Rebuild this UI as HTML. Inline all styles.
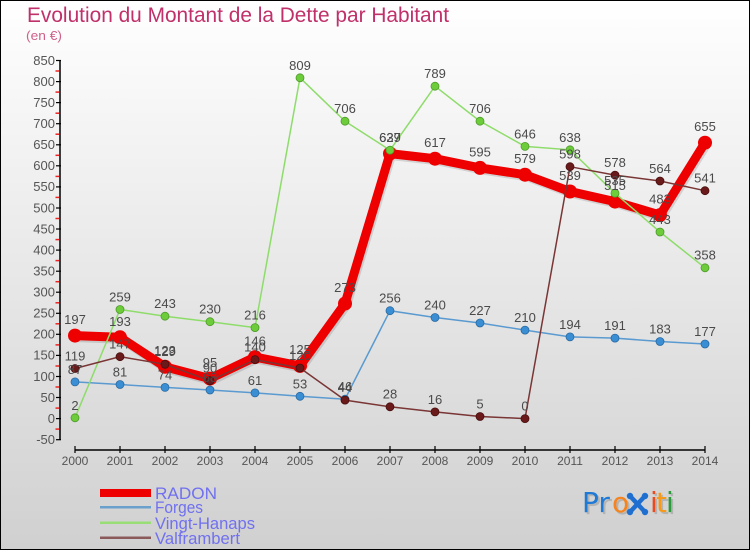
<!DOCTYPE html>
<html><head><meta charset="utf-8"><style>
html,body{margin:0;padding:0;}
body{width:750px;height:550px;overflow:hidden;}
svg{display:block;}
</style></head><body>
<svg width="750" height="550" viewBox="0 0 750 550" xmlns="http://www.w3.org/2000/svg" font-family="Liberation Sans, DejaVu Sans, sans-serif">
<defs>
<linearGradient id="bg" x1="0" y1="0" x2="0" y2="1">
<stop offset="0" stop-color="#ffffff"/>
<stop offset="1" stop-color="#d0d0d0"/>
</linearGradient>
</defs>
<rect x="0" y="0" width="750" height="550" fill="url(#bg)"/>
<rect x="0.5" y="0.5" width="749" height="549" fill="none" stroke="#000" stroke-width="1"/>

<text x="27" y="22" font-size="21" fill="#c0306a" textLength="422" lengthAdjust="spacingAndGlyphs">Evolution du Montant de la Dette par Habitant</text>
<text x="26" y="40" font-size="13" fill="#d0608a" textLength="36" lengthAdjust="spacingAndGlyphs">(en €)</text>

<!-- Y axis -->
<g stroke="#ee2222" stroke-width="1.5">
<line x1="55.5" y1="71" x2="59" y2="71"/><line x1="55.5" y1="92.1" x2="59" y2="92.1"/><line x1="55.5" y1="113.2" x2="59" y2="113.2"/><line x1="55.5" y1="134.2" x2="59" y2="134.2"/><line x1="55.5" y1="155.3" x2="59" y2="155.3"/><line x1="55.5" y1="176.4" x2="59" y2="176.4"/><line x1="55.5" y1="197.4" x2="59" y2="197.4"/><line x1="55.5" y1="218.5" x2="59" y2="218.5"/><line x1="55.5" y1="239.6" x2="59" y2="239.6"/><line x1="55.5" y1="260.6" x2="59" y2="260.6"/><line x1="55.5" y1="281.7" x2="59" y2="281.7"/><line x1="55.5" y1="302.8" x2="59" y2="302.8"/><line x1="55.5" y1="323.8" x2="59" y2="323.8"/><line x1="55.5" y1="344.9" x2="59" y2="344.9"/><line x1="55.5" y1="366" x2="59" y2="366"/><line x1="55.5" y1="387" x2="59" y2="387"/><line x1="55.5" y1="408.1" x2="59" y2="408.1"/><line x1="55.5" y1="429.1" x2="59" y2="429.1"/>
</g>
<g stroke="#000" stroke-width="1.5">
<line x1="60" y1="60.5" x2="60" y2="440"/>
</g>
<g stroke="#000" stroke-width="1.2">
<line x1="56" y1="60.5" x2="61" y2="60.5"/><line x1="56" y1="81.6" x2="61" y2="81.6"/><line x1="56" y1="102.6" x2="61" y2="102.6"/><line x1="56" y1="123.7" x2="61" y2="123.7"/><line x1="56" y1="144.8" x2="61" y2="144.8"/><line x1="56" y1="165.8" x2="61" y2="165.8"/><line x1="56" y1="186.9" x2="61" y2="186.9"/><line x1="56" y1="208" x2="61" y2="208"/><line x1="56" y1="229" x2="61" y2="229"/><line x1="56" y1="250.1" x2="61" y2="250.1"/><line x1="56" y1="271.2" x2="61" y2="271.2"/><line x1="56" y1="292.2" x2="61" y2="292.2"/><line x1="56" y1="313.3" x2="61" y2="313.3"/><line x1="56" y1="334.3" x2="61" y2="334.3"/><line x1="56" y1="355.4" x2="61" y2="355.4"/><line x1="56" y1="376.5" x2="61" y2="376.5"/><line x1="56" y1="397.5" x2="61" y2="397.5"/><line x1="56" y1="418.6" x2="61" y2="418.6"/><line x1="56" y1="439.7" x2="61" y2="439.7"/>
</g>
<g font-size="13" fill="#555" text-anchor="end">
<text x="55" y="65">850</text><text x="55" y="86">800</text><text x="55" y="107">750</text><text x="55" y="128">700</text><text x="55" y="149">650</text><text x="55" y="170">600</text><text x="55" y="191">550</text><text x="55" y="212.5">500</text><text x="55" y="233.5">450</text><text x="55" y="254.5">400</text><text x="55" y="275.5">350</text><text x="55" y="296.5">300</text><text x="55" y="317.5">250</text><text x="55" y="338.5">200</text><text x="55" y="359.5">150</text><text x="55" y="381">100</text><text x="55" y="402">50</text><text x="55" y="423">0</text><text x="55" y="444">-50</text>
</g>

<!-- X axis -->
<line x1="75" y1="450" x2="705" y2="450" stroke="#000" stroke-width="1.5"/>
<g stroke="#000" stroke-width="1.2">
<line x1="75" y1="446" x2="75" y2="453"/><line x1="120" y1="446" x2="120" y2="453"/><line x1="165" y1="446" x2="165" y2="453"/><line x1="210" y1="446" x2="210" y2="453"/><line x1="255" y1="446" x2="255" y2="453"/><line x1="300" y1="446" x2="300" y2="453"/><line x1="345" y1="446" x2="345" y2="453"/><line x1="390" y1="446" x2="390" y2="453"/><line x1="435" y1="446" x2="435" y2="453"/><line x1="480" y1="446" x2="480" y2="453"/><line x1="525" y1="446" x2="525" y2="453"/><line x1="570" y1="446" x2="570" y2="453"/><line x1="615" y1="446" x2="615" y2="453"/><line x1="660" y1="446" x2="660" y2="453"/><line x1="705" y1="446" x2="705" y2="453"/>
</g>
<g font-size="12" fill="#555" text-anchor="middle">
<text x="75" y="465">2000</text><text x="120" y="465">2001</text><text x="165" y="465">2002</text><text x="210" y="465">2003</text><text x="255" y="465">2004</text><text x="300" y="465">2005</text><text x="345" y="465">2006</text><text x="390" y="465">2007</text><text x="435" y="465">2008</text><text x="480" y="465">2009</text><text x="525" y="465">2010</text><text x="570" y="465">2011</text><text x="615" y="465">2012</text><text x="660" y="465">2013</text><text x="705" y="465">2014</text>
</g>

<!-- RADON -->
<polyline fill="none" stroke="#000" stroke-opacity="0.12" stroke-width="9" stroke-linejoin="round" transform="translate(1.5,2)" points="75,335.6 120,337.3 165,366.8 210,378.6 255,357.1 300,365.9 345,303.6 390,153.6 435,158.7 480,167.9 525,174.7 570,191.5 615,201.6 660,215.1 705,142.7"/>
<polyline fill="none" stroke="#ee0000" stroke-width="9" stroke-linejoin="round" points="75,335.6 120,337.3 165,366.8 210,378.6 255,357.1 300,365.9 345,303.6 390,153.6 435,158.7 480,167.9 525,174.7 570,191.5 615,201.6 660,215.1 705,142.7"/>
<g fill="#ee0000">
<circle cx="75" cy="335.6" r="7"/><circle cx="120" cy="337.3" r="7"/><circle cx="165" cy="366.8" r="7"/><circle cx="210" cy="378.6" r="7"/><circle cx="255" cy="357.1" r="7"/><circle cx="300" cy="365.9" r="7"/><circle cx="345" cy="303.6" r="7"/><circle cx="390" cy="153.6" r="7"/><circle cx="435" cy="158.7" r="7"/><circle cx="480" cy="167.9" r="7"/><circle cx="525" cy="174.7" r="7"/><circle cx="570" cy="191.5" r="7"/><circle cx="615" cy="201.6" r="7"/><circle cx="660" cy="215.1" r="7"/><circle cx="705" cy="142.7" r="7"/>
</g>

<!-- Forges -->
<polyline fill="none" stroke="#5a9ad0" stroke-width="1.5" points="75,381.9 120,384.5 165,387.4 210,390 255,392.9 300,396.3 345,399.2 390,310.7 435,317.5 480,323 525,330.1 570,336.9 615,338.1 660,341.5 705,344"/>
<g fill="#3a8ed4" stroke="#2a6aa0" stroke-width="0.8">
<circle cx="75" cy="381.9" r="4"/><circle cx="120" cy="384.5" r="4"/><circle cx="165" cy="387.4" r="4"/><circle cx="210" cy="390" r="4"/><circle cx="255" cy="392.9" r="4"/><circle cx="300" cy="396.3" r="4"/><circle cx="345" cy="399.2" r="4"/><circle cx="390" cy="310.7" r="4"/><circle cx="435" cy="317.5" r="4"/><circle cx="480" cy="323" r="4"/><circle cx="525" cy="330.1" r="4"/><circle cx="570" cy="336.9" r="4"/><circle cx="615" cy="338.1" r="4"/><circle cx="660" cy="341.5" r="4"/><circle cx="705" cy="344" r="4"/>
</g>

<!-- Vingt-Hanaps -->
<polyline fill="none" stroke="#8edc6a" stroke-width="1.5" points="75,417.8 120,309.5 165,316.2 210,321.7 255,327.6 300,77.8 345,121.2 390,150.2 435,86.2 480,121.2 525,146.4 570,149.8 615,193.2 660,232 705,267.8"/>
<g fill="#6ccc3a" stroke="#4f9a2a" stroke-width="0.8">
<circle cx="75" cy="417.8" r="4"/><circle cx="120" cy="309.5" r="4"/><circle cx="165" cy="316.2" r="4"/><circle cx="210" cy="321.7" r="4"/><circle cx="255" cy="327.6" r="4"/><circle cx="300" cy="77.8" r="4"/><circle cx="345" cy="121.2" r="4"/><circle cx="390" cy="150.2" r="4"/><circle cx="435" cy="86.2" r="4"/><circle cx="480" cy="121.2" r="4"/><circle cx="525" cy="146.4" r="4"/><circle cx="570" cy="149.8" r="4"/><circle cx="615" cy="193.2" r="4"/><circle cx="660" cy="232" r="4"/><circle cx="705" cy="267.8" r="4"/>
</g>

<!-- Valframbert -->
<polyline fill="none" stroke="#7a3535" stroke-width="1.5" points="75,368.5 120,356.7 165,364.3 210,380.7 255,359.6 300,368 345,400.1 390,406.8 435,411.9 480,416.5 525,418.6 570,166.7 615,175.1 660,181 705,190.7"/>
<g fill="#6a1a1a" stroke="#4a0e0e" stroke-width="0.8">
<circle cx="75" cy="368.5" r="4"/><circle cx="120" cy="356.7" r="4"/><circle cx="165" cy="364.3" r="4"/><circle cx="210" cy="380.7" r="4"/><circle cx="255" cy="359.6" r="4"/><circle cx="300" cy="368" r="4"/><circle cx="345" cy="400.1" r="4"/><circle cx="390" cy="406.8" r="4"/><circle cx="435" cy="411.9" r="4"/><circle cx="480" cy="416.5" r="4"/><circle cx="525" cy="418.6" r="4"/><circle cx="570" cy="166.7" r="4"/><circle cx="615" cy="175.1" r="4"/><circle cx="660" cy="181" r="4"/><circle cx="705" cy="190.7" r="4"/>
</g>

<!-- value labels -->
<g font-size="13" fill="#4a4a4a" text-anchor="middle">
<text x="75" y="324">197</text><text x="120" y="326">193</text><text x="165" y="355">123</text><text x="210" y="367">95</text><text x="255" y="345.5">146</text><text x="300" y="354">125</text><text x="345" y="292">273</text><text x="390" y="142">629</text><text x="435" y="147">617</text><text x="480" y="156.5">595</text><text x="525" y="163">579</text><text x="570" y="180">539</text><text x="615" y="190">515</text><text x="660" y="203.5">483</text><text x="705" y="131">655</text>
<text x="75" y="374">87</text><text x="120" y="376.5">81</text><text x="165" y="379.5">74</text><text x="210" y="382">68</text><text x="255" y="385">61</text><text x="300" y="388.5">53</text><text x="345" y="391">46</text><text x="390" y="302.5">256</text><text x="435" y="309.5">240</text><text x="480" y="315">227</text><text x="525" y="322">210</text><text x="570" y="329">194</text><text x="615" y="330">191</text><text x="660" y="333.5">183</text><text x="705" y="336">177</text>
<text x="75" y="410">2</text><text x="120" y="301.5">259</text><text x="165" y="308">243</text><text x="210" y="313.5">230</text><text x="255" y="319.5">216</text><text x="300" y="70">809</text><text x="345" y="113">706</text><text x="390" y="142">637</text><text x="435" y="78">789</text><text x="480" y="113">706</text><text x="525" y="138.5">646</text><text x="570" y="142">638</text><text x="615" y="185">535</text><text x="660" y="224">443</text><text x="705" y="259.5">358</text>
<text x="75" y="360.5">119</text><text x="120" y="348.5">147</text><text x="165" y="356">129</text><text x="210" y="372.5">90</text><text x="255" y="351.5">140</text><text x="300" y="360">120</text><text x="345" y="392">44</text><text x="390" y="398.5">28</text><text x="435" y="404">16</text><text x="480" y="408.5">5</text><text x="525" y="410.5">0</text><text x="570" y="158.5">598</text><text x="615" y="167">578</text><text x="660" y="173">564</text><text x="705" y="182.5">541</text>
</g>

<!-- legend -->
<rect x="100" y="489" width="51" height="8" fill="#ee0000"/>
<rect x="100" y="506" width="51" height="2.5" fill="#6aa0cc"/>
<rect x="100" y="521.5" width="51" height="2.5" fill="#99dd77"/>
<rect x="100" y="536.5" width="51" height="2.5" fill="#8a5a5a"/>
<g font-size="17" fill="#7070f0">
<text x="155" y="499" textLength="62" lengthAdjust="spacingAndGlyphs">RADON</text>
<text x="155" y="513" textLength="48" lengthAdjust="spacingAndGlyphs">Forges</text>
<text x="155" y="529" textLength="100" lengthAdjust="spacingAndGlyphs">Vingt-Hanaps</text>
<text x="155" y="544" textLength="85" lengthAdjust="spacingAndGlyphs">Valframbert</text>
</g>

<!-- Proxiti logo -->
<g font-size="28" font-family="DejaVu Sans, Liberation Sans, sans-serif">
<g fill="#000" fill-opacity="0.15" transform="translate(2,2)">
<text x="582" y="512">Pr</text><text x="612" y="512">o</text><text x="650" y="512">i</text><text x="656" y="512">t</text><text x="666" y="512">i</text>
</g>
<text x="582" y="512" fill="#1f7ad6">Pr</text>
<text x="612" y="512" fill="#f5841f">o</text>
<text x="650" y="512" fill="#ea4a1e">i</text>
<text x="656" y="512" fill="#f59a1a">t</text>
<text x="666" y="512" fill="#2a9a3a">i</text>
</g>
<g stroke="#1f6fd0" stroke-width="4.5" stroke-linecap="round">
<line x1="630" y1="496" x2="645" y2="512"/>
<line x1="645" y1="496" x2="630" y2="512"/>
</g>
<g fill="#1f6fd0">
<circle cx="630" cy="496" r="3.2"/><circle cx="645" cy="496" r="3.2"/><circle cx="630" cy="512" r="3.2"/><circle cx="645" cy="512" r="3.2"/>
</g>
</svg>
</body></html>
